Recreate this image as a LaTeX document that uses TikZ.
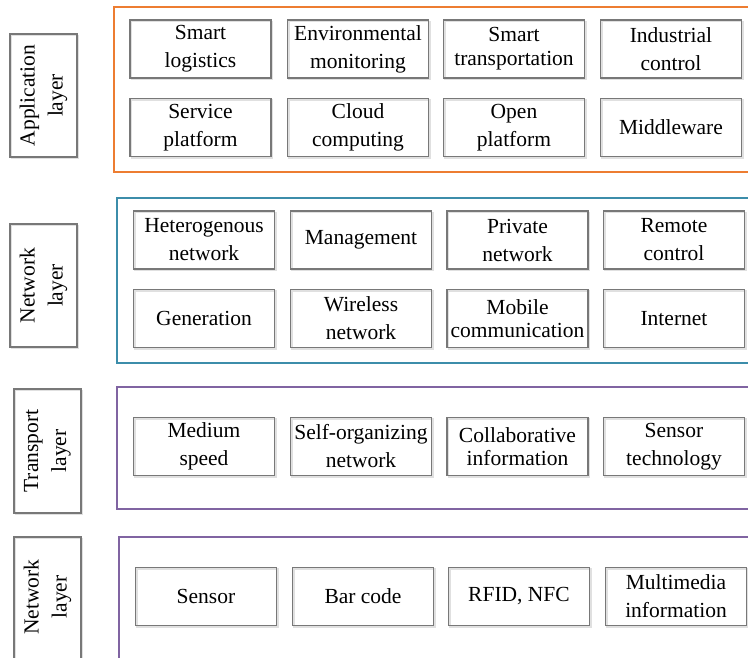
\documentclass[tikz,border=0pt]{standalone}
\usepackage{fontspec}
\setmainfont{Liberation Serif}
\definecolor{apporange}{HTML}{ED7D31}
\definecolor{netteal}{HTML}{3C8DAA}
\definecolor{tpurple}{HTML}{8064A2}
\definecolor{boxgray}{HTML}{787878}
\newcommand{\bigtxt}{\fontsize{21.5}{28}\selectfont}
\begin{document}
\begin{tikzpicture}[x=1pt,y=-1pt,
  cell/.style={draw=boxgray,line width=1.1pt,minimum width=141pt,minimum height=58pt,
    align=center,inner sep=1pt,font=\bigtxt,
    preaction={draw=black!12,line width=1.5pt,transform canvas={shift={(1.5pt,-1.5pt)}}}},
  lbl/.style={draw=boxgray,line width=1.1pt,
    preaction={draw=black!12,line width=1.5pt,transform canvas={shift={(1.5pt,-1.5pt)}}}},
  lbltext/.style={rotate=90,align=center,inner sep=0pt,font=\bigtxt},
  frame/.style={line width=1.4pt}]
\useasboundingbox (0,0) rectangle (748,658);
\clip (0,0) rectangle (748,658);
% frames
\draw[frame,draw=apporange] (114,7) rectangle (770,172);
\draw[frame,draw=netteal] (117,198) rectangle (770,363);
\draw[frame,draw=tpurple] (117,387) rectangle (770,509);
\draw[frame,draw=tpurple] (119,537) rectangle (770,690);
% layer labels
\draw[lbl] (10,34) rectangle (77,157);
\node[lbltext] (lapp) at (43.5,95.5) {Application\\layer};
\draw[lbl] (10,224) rectangle (77,347);
\node[lbltext] (lnet) at (43.5,285.5) {Network\\layer};
\draw[lbl] (14,389) rectangle (81,513);
\node[lbltext] (ltra) at (47.5,451) {Transport\\layer};
\draw[lbl] (14,537) rectangle (81,690);
\node[lbltext] (lbot) at (47.5,597) {Network\\layer};
% application layer
\node[cell] (a1) at (200.5,49) {Smart\\logistics};
\node[cell] (a2) at (358,49) {Environmental\\monitoring};
\node[cell] (a3) at (514,49) {Smart\\[-4pt]transportation};
\node[cell] (a4) at (671,49) {Industrial\\control};
\node[cell] (a5) at (200.5,127.5) {Service\\platform};
\node[cell] (a6) at (358,127.5) {Cloud\\computing};
\node[cell] (a7) at (514,127.5) {Open\\platform};
\node[cell] (a8) at (671,127.5) {Middleware};
% network layer
\node[cell] (n1) at (204,240) {Heterogenous\\network};
\node[cell] (n2) at (361,240) {Management};
\node[cell] (n3) at (517.5,240) {Private\\network};
\node[cell] (n4) at (674,240) {Remote\\control};
\node[cell] (n5) at (204,318.5) {Generation};
\node[cell] (n6) at (361,318.5) {Wireless\\network};
\node[cell] (n7) at (517.5,318.5) {Mobile\\[-5pt]communication};
\node[cell] (n8) at (674,318.5) {Internet};
% transport layer
\node[cell] (t1) at (204,446.5) {Medium\\speed};
\node[cell] (t2) at (361,446.5) {Self-organizing\\network};
\node[cell] (t3) at (517.5,446.5) {Collaborative\\[-5pt]information};
\node[cell] (t4) at (674,446.5) {Sensor\\technology};
% bottom network layer
\node[cell] (b1) at (206,596.5) {Sensor};
\node[cell] (b2) at (363,596.5) {Bar code};
\node[cell] (b3) at (519,596.5) {RFID, NFC};
\node[cell] (b4) at (676,596.5) {Multimedia\\information};
\end{tikzpicture}
\end{document}
